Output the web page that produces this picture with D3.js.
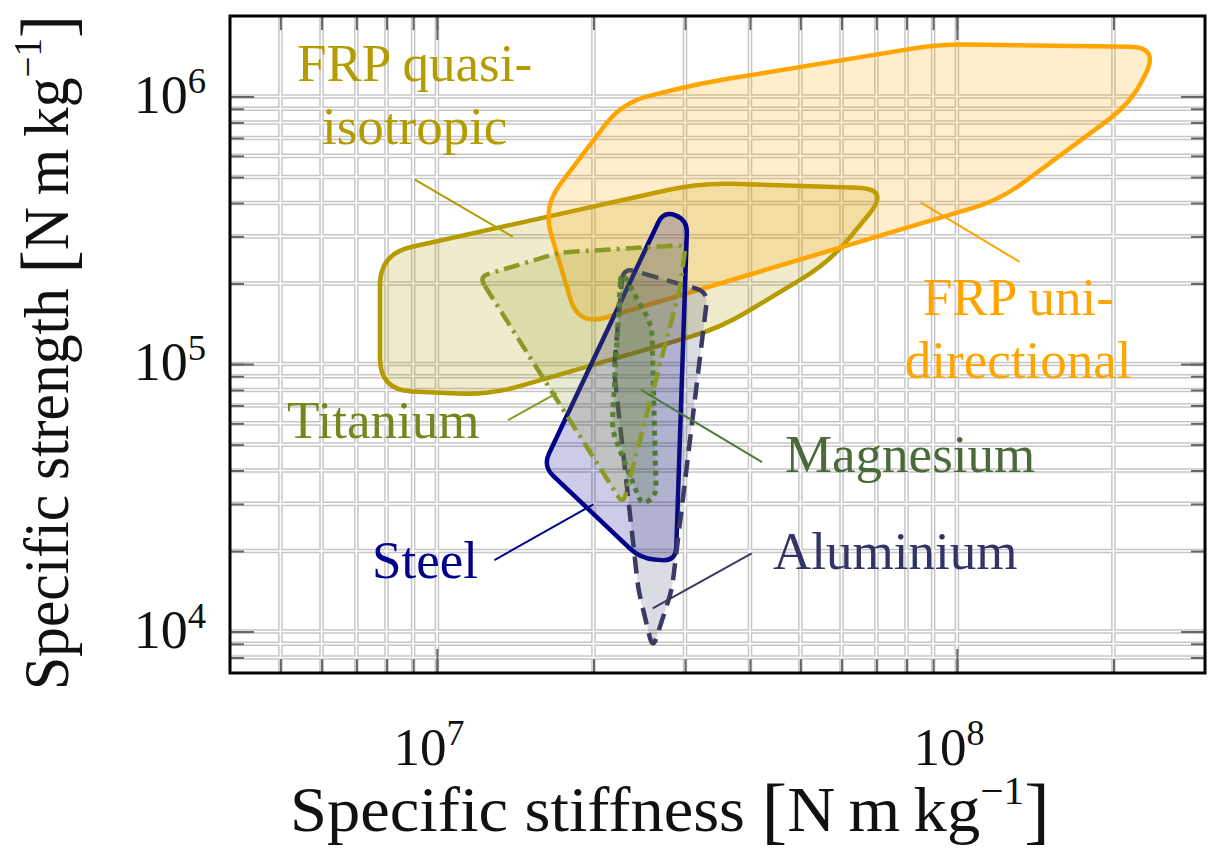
<!DOCTYPE html>
<html>
<head>
<meta charset="utf-8">
<script src="https://cdn.jsdelivr.net/npm/d3@7"></script>
<style>
  body { margin: 0; background: #fff; }
  text { font-family: "Liberation Serif", "DejaVu Serif", serif; }
</style>
</head>
<body>
<div class="container"></div>
<script>
// material envelopes, [specific stiffness, specific strength] in N m/kg
const frpUni = [[1.60e7, 3.87e5], [2.27e7, 9.5e5], [3.21e7, 1.12e6], [9.27e7, 1.57e6],
    [2.44e8, 1.53e6], [2.17e8, 9.5e5], [1.21e8, 4.11e5], [1.87e7, 1.39e5]];
const frpQuasi = [[7.77e6, 2.58e5], [3.21e7, 4.76e5], [7.43e7, 4.52e5], [5.7e7, 2.41e5],
    [3.5e7, 1.36e5], [1.26e7, 7.66e4], [7.77e6, 8.0e4]];
const steel = [[2.73e7, 3.74e5], [3.03e7, 3.46e5], [2.88e7, 1.83e4], [2.46e7, 1.88e4], [1.60e7, 4.15e4]];
const aluminium = [[2.28e7, 2.29e5], [3.32e7, 1.86e5], [2.83e7, 1.43e4], [2.60e7, 8.6e3],
    [2.44e7, 1.43e4], [2.19e7, 9.5e4]];
const magnesium = [[2.26e7, 2.25e5], [2.59e7, 1.40e5], [2.64e7, 3.23e4], [2.48e7, 2.96e4], [2.17e7, 5.66e4]];
const titanium = [[1.205e7, 2.12e5], [1.72e7, 2.61e5], [3.01e7, 2.79e5], [2.93e7, 1.89e5], [2.28e7, 2.99e4]];

const materials = ['FRP quasi-isotropic', 'FRP uni-directional', 'Steel', 'Aluminium', 'Magnesium', 'Titanium'];
const envelopes = [frpQuasi, frpUni, steel, aluminium, magnesium, titanium];

// label lines, leader line from/to
const labelLines = [['FRP quasi-', 'isotropic'], ['FRP uni-', 'directional'], ['Steel'], ['Aluminium'], ['Magnesium'], ['Titanium']];
const labelAnchors = [[5.38e6, 1.14e6], [8.6e7, 1.53e5], [7.5e6, 1.58e4], [4.43e7, 1.71e4], [4.67e7, 3.94e4], [5.15e6, 5.28e4]];
const leaders = [
    [[9.07e6, 4.89e5], [1.40e7, 2.99e5]],
    [[8.53e7, 4.01e5], [1.32e8, 2.41e5]],
    [[1.29e7, 1.85e4], [2.0e7, 2.99e4]],
    [[4.03e7, 1.96e4], [2.60e7, 1.22e4]],
    [[4.22e7, 4.30e4], [2.47e7, 8.0e4]],
    [[1.37e7, 6.17e4], [1.70e7, 7.79e4]]
];

const xDomain = [4e6, 3e8],
    yDomain = [7e3, 2e6],
    xTickValues = [1e7, 1e8],
    yTickValues = [1e4, 1e5, 1e6];

const styles = {
    'FRP quasi-isotropic': {color: '#b39b00', text: '#b39b00', dash: null, width: 4.5, r: 32, op: 0.2},
    'FRP uni-directional': {color: '#ffa500', text: '#ffa500', dash: null, width: 4.5, r: 28, op: 0.2},
    'Steel': {color: '#00008b', text: '#00008b', dash: null, width: 4.5, r: 14, op: 0.2},
    'Aluminium': {color: '#3a3a62', text: '#333366', dash: '17,9', width: 4.5, r: 12, op: 0.18},
    'Magnesium': {color: '#4e7a36', text: '#4a6a3a', dash: '5,5', width: 5, r: 12, op: 0.2},
    'Titanium': {color: '#8a9a24', text: '#76861e', dash: '16,6,3,6', width: 4.5, r: 10, op: 0.2}
};

const W = 1220, H = 854,
    margin = {top: 16, right: 15, bottom: 181, left: 230},
    plotW = W - margin.left - margin.right,
    plotH = H - margin.top - margin.bottom;

const svg = d3.select('.container')
    .append('svg')
    .attr('width', W)
    .attr('height', H)
    .style('background', '#fff');

const x = d3.scaleLog().domain(xDomain).range([margin.left, margin.left + plotW]);
const y = d3.scaleLog().domain(yDomain).range([margin.top + plotH, margin.top]);
const pLeft = margin.left, pRight = margin.left + plotW, pTop = margin.top, pBottom = margin.top + plotH;

// double-line grid: gray first, then white centre on top
const xGrid = x.ticks().filter(v => v > xDomain[0] && v < xDomain[1]);
const yGrid = y.ticks().filter(v => v > yDomain[0] && v < yDomain[1]);
const grid = svg.append('g');
[['#c6c6c6', 4.6], ['#ffffff', 1.6]].forEach(([c, w]) => {
    grid.append('g').selectAll('line').data(xGrid).join('line')
        .attr('x1', d => x(d)).attr('x2', d => x(d))
        .attr('y1', pTop).attr('y2', pBottom)
        .attr('stroke', c).attr('stroke-width', w);
    grid.append('g').selectAll('line').data(yGrid).join('line')
        .attr('y1', d => y(d)).attr('y2', d => y(d))
        .attr('x1', pLeft).attr('x2', pRight)
        .attr('stroke', c).attr('stroke-width', w);
});

// inside ticks on all four sides
const tickAxes = [
    [d3.axisTop(x), `translate(0,${pBottom})`, xGrid, xTickValues],
    [d3.axisBottom(x), `translate(0,${pTop})`, xGrid, xTickValues],
    [d3.axisRight(y), `translate(${pLeft},0)`, yGrid, yTickValues],
    [d3.axisLeft(y), `translate(${pRight},0)`, yGrid, yTickValues]
];
tickAxes.forEach(([axis, tr, minor, major]) => {
    [[minor, 14], [major, 24]].forEach(([vals, size]) => {
        const g = svg.append('g')
            .attr('transform', tr)
            .call(axis.tickValues(vals).tickSize(size).tickFormat(''));
        g.select('.domain').remove();
        g.selectAll('line').attr('stroke', '#666').attr('stroke-width', 2);
    });
});

// rounded-corner closed outline through the scaled vertices
const roundedPath = (pts, r) => {
    const p = d3.path(), n = pts.length;
    pts.forEach((cur, i) => {
        const prev = pts[(i - 1 + n) % n], next = pts[(i + 1) % n];
        const d1 = Math.hypot(prev[0] - cur[0], prev[1] - cur[1]),
            d2 = Math.hypot(next[0] - cur[0], next[1] - cur[1]),
            rr = Math.min(r, d1 / 2, d2 / 2);
        const a = [cur[0] + (prev[0] - cur[0]) * rr / d1, cur[1] + (prev[1] - cur[1]) * rr / d1],
            b = [cur[0] + (next[0] - cur[0]) * rr / d2, cur[1] + (next[1] - cur[1]) * rr / d2];
        if (i === 0) p.moveTo(a[0], a[1]); else p.lineTo(a[0], a[1]);
        p.quadraticCurveTo(cur[0], cur[1], b[0], b[1]);
    });
    p.closePath();
    return p.toString();
};

const shapes = svg.append('g');
materials.forEach((name, i) => {
    const s = styles[name];
    const pts = envelopes[i].map(d => [x(d[0]), y(d[1])]);
    shapes.append('path')
        .attr('d', roundedPath(pts, s.r))
        .attr('fill', s.color)
        .attr('fill-opacity', s.op)
        .attr('stroke', s.color)
        .attr('stroke-width', s.width)
        .attr('stroke-dasharray', s.dash)
        .attr('stroke-linejoin', 'round');
});

// annotations
const notes = svg.append('g');
materials.forEach((name, i) => {
    const s = styles[name];
    const [p0, p1] = leaders[i];
    notes.append('line')
        .attr('x1', x(p0[0])).attr('y1', y(p0[1]))
        .attr('x2', x(p1[0])).attr('y2', y(p1[1]))
        .attr('stroke', s.color).attr('stroke-width', 2);
    const ax = x(labelAnchors[i][0]);
    const t = notes.append('text')
        .attr('x', ax)
        .attr('y', y(labelAnchors[i][1]))
        .attr('fill', s.text)
        .attr('font-size', 53);
    labelLines[i].forEach((line, k) => {
        t.append('tspan')
            .attr('x', k ? ax + (i === 1 ? -18 : 25) : ax)
            .attr('dy', k ? 63 : 0)
            .text(line);
    });
});

// frame
svg.append('rect')
    .attr('x', pLeft).attr('y', pTop)
    .attr('width', plotW).attr('height', plotH)
    .attr('fill', 'none').attr('stroke', '#000').attr('stroke-width', 3);

// tick labels as powers of ten
const power = (sel, v) => {
    sel.append('tspan').text('10');
    sel.append('tspan')
        .attr('font-size', '0.68em')
        .attr('dy', -20)
        .text(Math.round(Math.log10(v)));
};
xTickValues.forEach(v => {
    svg.append('text')
        .attr('x', x(v) - 8)
        .attr('y', pBottom + 92)
        .attr('text-anchor', 'middle')
        .attr('font-size', 53)
        .attr('fill', '#111')
        .call(power, v);
});
yTickValues.forEach(v => {
    svg.append('text')
        .attr('x', pLeft - 24)
        .attr('y', y(v) + 16)
        .attr('text-anchor', 'end')
        .attr('font-size', 54)
        .attr('fill', '#111')
        .call(power, v);
});

// axis titles
const unitTitle = (sel, label) => {
    sel.append('tspan').text(label + ' ');
    sel.append('tspan').attr('font-size', 74).attr('dy', 4).text('[');
    sel.append('tspan').attr('dy', -4).text('N\u2009m\u2009kg');
    sel.append('tspan').attr('font-size', 40).attr('dy', -27).text('\u22121');
    sel.append('tspan').attr('font-size', 74).attr('dy', 31).text(']');
};
svg.append('text')
    .attr('x', 290)
    .attr('y', 831)
    .attr('font-size', 64)
    .attr('fill', '#111')
    .attr('textLength', 760)
    .attr('lengthAdjust', 'spacingAndGlyphs')
    .call(unitTitle, 'Specific stiffness');

svg.append('text')
    .attr('transform', `translate(68,690) rotate(-90)`)
    .attr('font-size', 64)
    .attr('fill', '#111')
    .attr('textLength', 675)
    .attr('lengthAdjust', 'spacingAndGlyphs')
    .call(unitTitle, 'Specific strength');
</script>
</body>
</html>
